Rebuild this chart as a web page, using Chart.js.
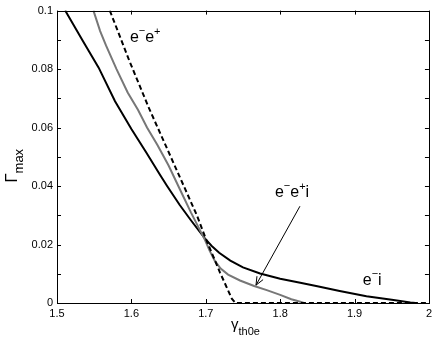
<!DOCTYPE html>
<html lang="en">
<head>
    <meta charset="UTF-8">
    <title>Gamma max vs gamma th0e</title>
    <script src="https://cdn.jsdelivr.net/npm/chart.js"></script>
    <style>
        body { margin: 0; background: #fff; }
        canvas { display: block; }
    </style>
</head>
<body>
    <canvas id="chart" width="436" height="339"></canvas>
    <script>
        // e- i (black solid)
        const eiX = [1.511, 1.535, 1.556, 1.578, 1.600, 1.620, 1.638, 1.648, 1.665, 1.680, 1.699, 1.708, 1.718, 1.733, 1.750, 1.773, 1.800, 1.827, 1.850, 1.880, 1.916, 1.950, 1.975, 1.982];
        const eiY = [0.100, 0.0895, 0.0805, 0.0690, 0.0595, 0.0515, 0.0440, 0.0400, 0.0335, 0.0283, 0.0220, 0.0195, 0.0172, 0.0145, 0.0122, 0.0101, 0.0083, 0.0069, 0.0057, 0.0041, 0.0023, 0.0011, 0.0002, 0];

        // e- e+ i (grey solid)
        const eeiX = [1.549, 1.558, 1.566, 1.580, 1.595, 1.609, 1.621, 1.635, 1.650, 1.665, 1.680, 1.699, 1.705, 1.712, 1.720, 1.730, 1.746, 1.765, 1.782, 1.800, 1.815, 1.827, 1.832];
        const eeiY = [0.100, 0.093, 0.088, 0.080, 0.072, 0.066, 0.060, 0.054, 0.047, 0.039, 0.031, 0.0215, 0.0180, 0.0145, 0.0118, 0.0097, 0.0077, 0.0058, 0.0044, 0.0028, 0.0013, 0.0004, 0];

        // e- e+ (black dashed)
        const eeX = [1.571, 1.597, 1.623, 1.661, 1.688, 1.700, 1.719, 1.735, 1.740, 2.0];
        const eeY = [0.100, 0.083, 0.067, 0.0454, 0.0300, 0.0220, 0.0105, 0.0015, 0, 0];

        const xTicks = [1.5, 1.6, 1.7, 1.8, 1.9, 2.0];
        const yLabelTicks = [0, 0.02, 0.04, 0.06, 0.08, 0.1];

        // annotation anchors in data units
        const labelEE = { x: 1.598, y: 0.0891 };
        const labelEEI = { x: 1.793, y: 0.0362 };
        const labelEI = { x: 1.911, y: 0.0061 };
        const arrowFrom = { x: 1.8266, y: 0.0331 };
        const arrowTo = { x: 1.7675, y: 0.0061 };

        const FONT = '"Liberation Sans", Arial, Helvetica, sans-serif';

        function pts(xs, ys) {
            return xs.map((v, i) => ({ x: v, y: ys[i] }));
        }

        // draws text runs: [text, size, dy]
        function drawRuns(ctx, x, y, runs) {
            let cx = x;
            runs.forEach(r => {
                ctx.font = r[1] + 'px ' + FONT;
                ctx.fillText(r[0], cx, y + (r[2] || 0));
                cx += ctx.measureText(r[0]).width;
            });
        }

        const framePlugin = {
            id: 'frame',
            afterDraw(chart) {
                const ctx = chart.ctx;
                const a = chart.chartArea;
                const xs = chart.scales.x, ys = chart.scales.y;
                ctx.save();
                ctx.strokeStyle = '#000';
                ctx.fillStyle = '#000';
                ctx.lineWidth = 1;

                // box
                ctx.strokeRect(Math.round(a.left) + 0.5, Math.round(a.top) + 0.5,
                    Math.round(a.right - a.left), Math.round(a.bottom - a.top));

                // inward ticks on all sides
                const len = 4;
                ctx.beginPath();
                xs.ticks.forEach(t => {
                    const px = Math.round(xs.getPixelForValue(t.value)) + 0.5;
                    ctx.moveTo(px, a.bottom); ctx.lineTo(px, a.bottom - len);
                    ctx.moveTo(px, a.top); ctx.lineTo(px, a.top + len);
                });
                ys.ticks.forEach(t => {
                    const py = Math.round(ys.getPixelForValue(t.value)) + 0.5;
                    ctx.moveTo(a.left, py); ctx.lineTo(a.left + len, py);
                    ctx.moveTo(a.right, py); ctx.lineTo(a.right - len, py);
                });
                ctx.stroke();

                ctx.textBaseline = 'alphabetic';
                ctx.textAlign = 'left';

                // curve labels
                drawRuns(ctx, xs.getPixelForValue(labelEE.x), ys.getPixelForValue(labelEE.y),
                    [['e', 16], ['\u2212', 11, -8], ['e', 16], ['+', 11, -7]]);
                drawRuns(ctx, xs.getPixelForValue(labelEEI.x), ys.getPixelForValue(labelEEI.y),
                    [['e', 16], ['\u2212', 11, -8], ['e', 16], ['+', 11, -7], ['i', 16]]);
                drawRuns(ctx, xs.getPixelForValue(labelEI.x), ys.getPixelForValue(labelEI.y),
                    [['e', 16], ['\u2212', 11, -8], ['i', 16]]);

                // arrow
                const x0 = xs.getPixelForValue(arrowFrom.x), y0 = ys.getPixelForValue(arrowFrom.y);
                const x1 = xs.getPixelForValue(arrowTo.x), y1 = ys.getPixelForValue(arrowTo.y);
                const ang = Math.atan2(y1 - y0, x1 - x0);
                ctx.beginPath();
                ctx.moveTo(x0, y0); ctx.lineTo(x1, y1);
                ctx.moveTo(x1, y1);
                ctx.lineTo(x1 - 9 * Math.cos(ang - 0.4), y1 - 9 * Math.sin(ang - 0.4));
                ctx.moveTo(x1, y1);
                ctx.lineTo(x1 - 9 * Math.cos(ang + 0.4), y1 - 9 * Math.sin(ang + 0.4));
                ctx.stroke();

                // x axis title
                const xc = (a.left + a.right) / 2;
                drawRuns(ctx, xc - 12, a.bottom + 26, [['\u03b3', 15], ['th0e', 11, 6]]);

                // y axis title
                ctx.translate(17, (a.top + a.bottom) / 2 + 26);
                ctx.rotate(-Math.PI / 2);
                drawRuns(ctx, 0, 0, [['\u0393', 17], ['max', 13, 6]]);
                ctx.restore();
            }
        };

        const ctx = document.getElementById('chart').getContext('2d');
        const chart = new Chart(ctx, {
            type: 'line',
            data: {
                datasets: [
                    {
                        label: 'e-e+',
                        data: pts(eeX, eeY),
                        borderColor: '#000',
                        borderWidth: 2,
                        borderDash: [5, 3],
                        pointRadius: 0,
                        fill: false,
                        tension: 0
                    },
                    {
                        label: 'e-e+i',
                        data: pts(eeiX, eeiY),
                        borderColor: '#777',
                        borderWidth: 2,
                        pointRadius: 0,
                        fill: false,
                        tension: 0
                    },
                    {
                        label: 'e-i',
                        data: pts(eiX, eiY),
                        borderColor: '#000',
                        borderWidth: 2,
                        pointRadius: 0,
                        fill: false,
                        tension: 0
                    }
                ]
            },
            options: {
                responsive: false,
                animation: false,
                events: [],
                layout: { padding: { top: 10, right: 7, left: 0, bottom: 0 } },
                plugins: {
                    legend: { display: false },
                    tooltip: { enabled: false }
                },
                scales: {
                    x: {
                        type: 'linear',
                        min: 1.5,
                        max: 2,
                        grid: { display: false, drawTicks: false },
                        border: { display: false },
                        afterBuildTicks: s => { s.ticks = xTicks.map(v => ({ value: v })); },
                        afterFit: s => { s.height = 36; },
                        ticks: {
                            padding: 4,
                            color: '#000',
                            font: { family: FONT, size: 11 },
                            maxRotation: 0,
                            autoSkip: false,
                            callback: v => String(Number(v.toFixed(1)))
                        }
                    },
                    y: {
                        type: 'linear',
                        min: 0,
                        max: 0.1,
                        grid: { display: false, drawTicks: false },
                        border: { display: false },
                        afterFit: s => { s.width = 57; },
                        ticks: {
                            stepSize: 0.01,
                            padding: 4,
                            color: '#000',
                            autoSkip: false,
                            font: { family: FONT, size: 11 },
                            callback: v => {
                                const r = Number(v.toFixed(2));
                                return yLabelTicks.some(t => Math.abs(t - r) < 1e-9) ? String(r) : '';
                            }
                        }
                    }
                }
            },
            plugins: [framePlugin]
        });
    </script>
</body>
</html>
